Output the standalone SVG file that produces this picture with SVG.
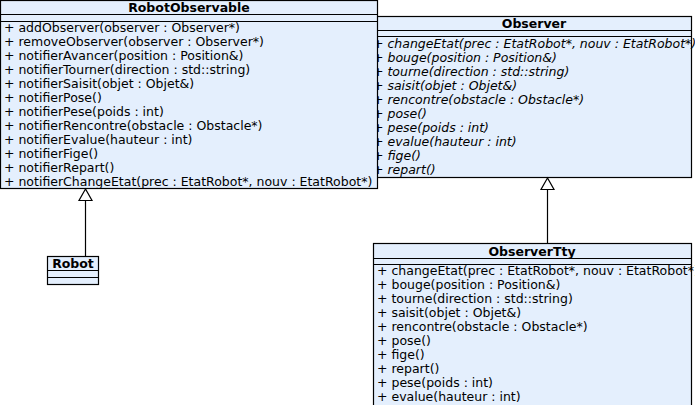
<svg xmlns="http://www.w3.org/2000/svg" width="695" height="405" viewBox="0 0 695 405">
<defs>
<style>
.box{fill:#e4effd;stroke:#000;stroke-width:1.2}
.sep{stroke:#000;stroke-width:1.2}
.title{font-family:"DejaVu Sans",sans-serif;font-size:12.5px;font-weight:bold;text-anchor:middle;fill:#000}
.m{font-family:"DejaVu Sans",sans-serif;font-size:12.5px;fill:#000}
.i{font-style:italic}
.edge{stroke:#000;stroke-width:1.2;fill:none}
.tri{fill:#fff;stroke:#000;stroke-width:1.2}
</style>
</defs>
<rect width="695" height="405" fill="#fff"/>
<g id="Observer">
<rect class="box" x="369.5" y="16.5" width="322" height="161"/>
<line class="sep" x1="369.5" y1="30.5" x2="691.5" y2="30.5"/>
<line class="sep" x1="369.5" y1="36.5" x2="691.5" y2="36.5"/>
<text class="title" x="534" y="27.5">Observer</text>
<g class="m i">
<text x="373" y="48">+ changeEtat(prec : EtatRobot*, nouv : EtatRobot*)</text>
<text x="373" y="62">+ bouge(position : Position&amp;)</text>
<text x="373" y="76">+ tourne(direction : std::string)</text>
<text x="373" y="90">+ saisit(objet : Objet&amp;)</text>
<text x="373" y="104">+ rencontre(obstacle : Obstacle*)</text>
<text x="373" y="118">+ pose()</text>
<text x="373" y="132">+ pese(poids : int)</text>
<text x="373" y="146">+ evalue(hauteur : int)</text>
<text x="373" y="160">+ fige()</text>
<text x="373" y="174">+ repart()</text>
</g>
</g>
<g id="ObserverTty">
<rect class="box" x="373.5" y="243.5" width="318" height="170"/>
<line class="sep" x1="373.5" y1="258.5" x2="691.5" y2="258.5"/>
<line class="sep" x1="373.5" y1="264.5" x2="691.5" y2="264.5"/>
<text class="title" x="532" y="255.5">ObserverTty</text>
<g class="m">
<text x="377" y="275">+ changeEtat(prec : EtatRobot*, nouv : EtatRobot*)</text>
<text x="377" y="289">+ bouge(position : Position&amp;)</text>
<text x="377" y="303">+ tourne(direction : std::string)</text>
<text x="377" y="317">+ saisit(objet : Objet&amp;)</text>
<text x="377" y="331">+ rencontre(obstacle : Obstacle*)</text>
<text x="377" y="345">+ pose()</text>
<text x="377" y="359">+ fige()</text>
<text x="377" y="373">+ repart()</text>
<text x="377" y="387">+ pese(poids : int)</text>
<text x="377" y="401">+ evalue(hauteur : int)</text>
</g>
</g>
<g id="RobotObservable">
<rect class="box" x="0.5" y="0.5" width="377" height="188"/>
<line class="sep" x1="0.5" y1="14.5" x2="377.5" y2="14.5"/>
<line class="sep" x1="0.5" y1="21.5" x2="377.5" y2="21.5"/>
<text class="title" x="189" y="11.5">RobotObservable</text>
<g class="m">
<text x="4" y="32">+ addObserver(observer : Observer*)</text>
<text x="4" y="46">+ removeObserver(observer : Observer*)</text>
<text x="4" y="60">+ notifierAvancer(position : Position&amp;)</text>
<text x="4" y="74">+ notifierTourner(direction : std::string)</text>
<text x="4" y="88">+ notifierSaisit(objet : Objet&amp;)</text>
<text x="4" y="102">+ notifierPose()</text>
<text x="4" y="116">+ notifierPese(poids : int)</text>
<text x="4" y="130">+ notifierRencontre(obstacle : Obstacle*)</text>
<text x="4" y="144">+ notifierEvalue(hauteur : int)</text>
<text x="4" y="158">+ notifierFige()</text>
<text x="4" y="172">+ notifierRepart()</text>
<text x="4" y="186">+ notifierChangeEtat(prec : EtatRobot*, nouv : EtatRobot*)</text>
</g>
</g>
<g id="Robot">
<rect class="box" x="47.5" y="256.5" width="51" height="28"/>
<line class="sep" x1="47.5" y1="270.5" x2="98.5" y2="270.5"/>
<line class="sep" x1="47.5" y1="277.5" x2="98.5" y2="277.5"/>
<text class="title" x="73" y="268">Robot</text>
</g>
<g id="connectors">
<line class="edge" x1="85.5" y1="256.5" x2="85.5" y2="200.5"/>
<polygon class="tri" points="85.5,189 79,200.5 92,200.5"/>
<line class="edge" x1="547.5" y1="243.5" x2="547.5" y2="189.5"/>
<polygon class="tri" points="547.5,178 541,189.5 554,189.5"/>
</g>
</svg>
